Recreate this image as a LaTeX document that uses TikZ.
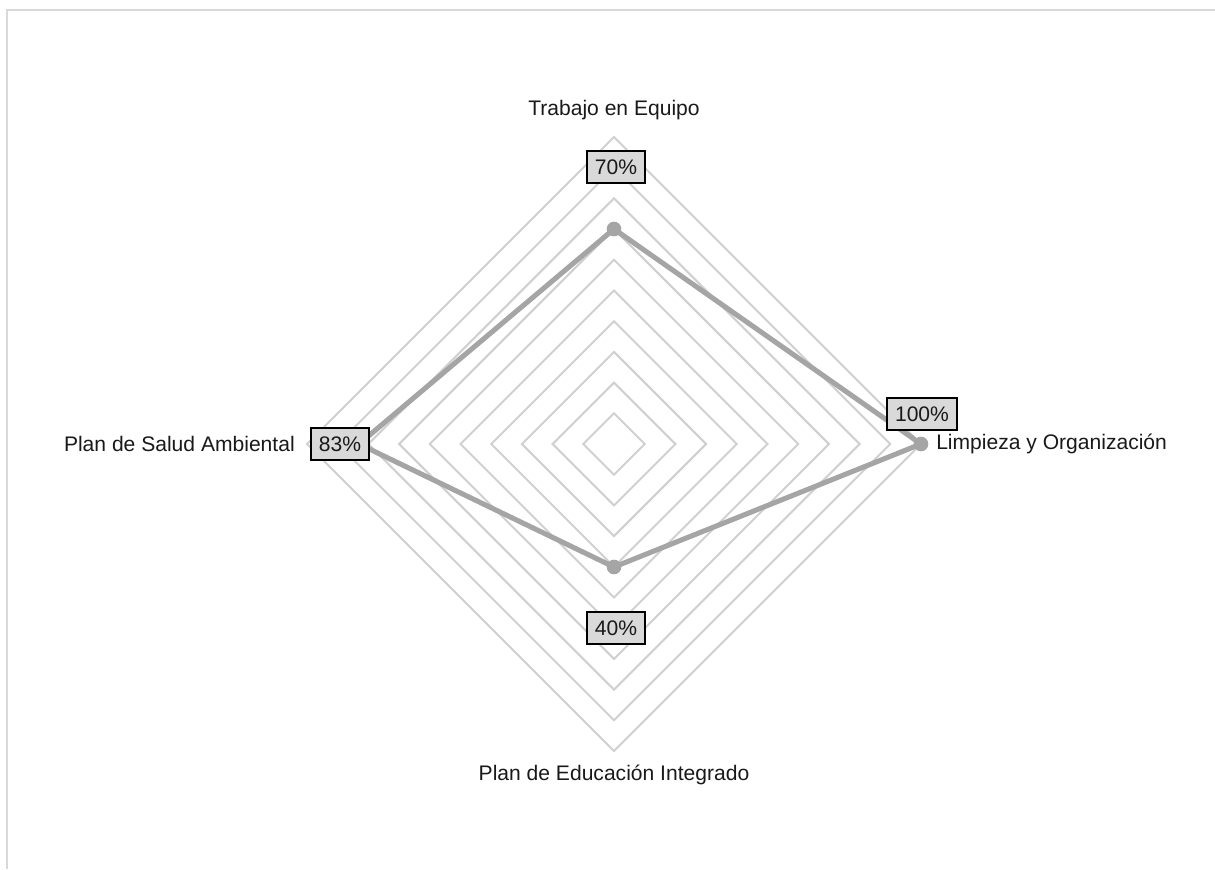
\documentclass[tikz,border=0pt]{standalone}
\usepackage{fontspec}
\setmainfont{Liberation Sans}
\definecolor{gridgray}{RGB}{208,208,208}
\definecolor{seriesgray}{RGB}{165,165,165}
\definecolor{boxfill}{RGB}{217,217,217}
\definecolor{framegray}{RGB}{217,217,217}
\begin{document}
\begin{tikzpicture}[x=0.75pt,y=-0.75pt,
  font=\fontsize{15.8}{18}\selectfont,
  gridline/.style={draw=gridgray,line width=1.5pt},
  series/.style={draw=seriesgray,line width=3.8pt,line join=round},
  dot/.style={circle,fill=seriesgray,inner sep=0pt,minimum size=11pt},
  valbox/.style={draw=black,line width=1.5pt,fill=boxfill,inner xsep=6.3pt,
    minimum height=24pt,text=black!90},
  axislabel/.style={text=black!90,inner sep=0pt}]
\useasboundingbox (0,0) rectangle (1215,869);
% chart frame
\draw[framegray,line width=1.5pt] (7,869) -- (7,10) -- (1215,10);
% radial grid: ten concentric diamonds
\foreach \k in {1,...,10}{
  \pgfmathsetmacro\r{30.7*\k}
  \draw[gridline] (614,{444-\r}) -- ({614+\r},444) -- (614,{444+\r}) -- ({614-\r},444) -- cycle;
}
% data points
\coordinate (T) at (614,229);
\coordinate (L) at (921,444);
\coordinate (E) at (614,567);
\coordinate (S) at (359,444);
\draw[series] (T) -- (L) -- (E) -- (S) -- cycle;
\foreach \p in {T,L,E,S} \node[dot] (d\p) at (\p) {};
% value labels
\node[valbox] (vT) at (616,167) {70\%};
\node[valbox] (vL) at (922,414) {100\%};
\node[valbox] (vS) at (340,444) {83\%};
\node[valbox] (vE) at (616,628) {40\%};
% axis labels
\node[axislabel] (aT) at (614,110) {Trabajo en Equipo};
\node[axislabel,anchor=west] (aL) at (936,444) {Limpieza y Organización};
\node[axislabel,anchor=east] (aS) at (295,444) {Plan de Salud Ambiental};
\node[axislabel] (aE) at (614,775) {Plan de Educación Integrado};
\end{tikzpicture}
\end{document}
